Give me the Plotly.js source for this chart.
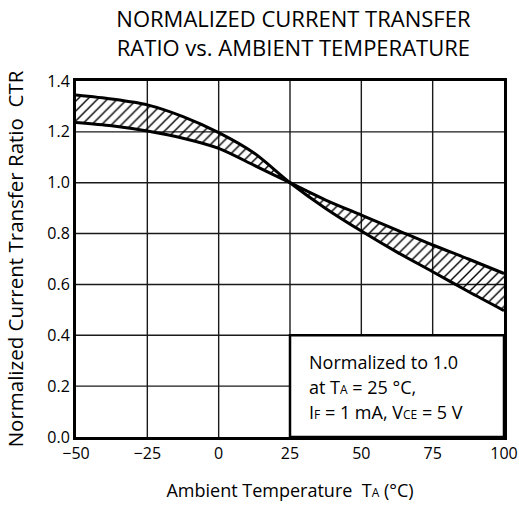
<!DOCTYPE html>
<html>
<head>
<meta charset="utf-8">
<script src="https://cdn.plot.ly/plotly-3.0.1.min.js"></script>
<style>html,body{margin:0;padding:0;background:#fff;}#chart{width:519px;height:507px;}</style>
</head>
<body>
<div id="chart"></div>
<script>
// Ambient temperature (°C)
var temperature = [-50, -37.5, -25, -12.5, 0, 12.5, 25, 37.5, 50, 62.5, 75, 87.5, 100];
// Steep boundary (high at cold, low at hot)
var ctrSteep   = [1.345, 1.329, 1.306, 1.260, 1.197, 1.116, 1.0, 0.899, 0.810, 0.727, 0.650, 0.572, 0.497];
// Shallow boundary (low at cold, high at hot)
var ctrShallow = [1.237, 1.224, 1.203, 1.175, 1.135, 1.068, 1.0, 0.932, 0.873, 0.814, 0.755, 0.700, 0.643];
var xTicks = [-50, -25, 0, 25, 50, 75, 100];
var yTicks = [0, 0.2, 0.4, 0.6, 0.8, 1.0, 1.2, 1.4];
var noteLines = [
  'Normalized to 1.0',
  'at T<span style="font-size:12px">A</span> = 25 °C,',
  'I<span style="font-size:12px">F</span> = 1 mA, V<span style="font-size:12px">CE</span> = 5 V'
];
var noteY = [0.295, 0.197, 0.098];

var FONT = '"Open Sans", "DejaVu Sans", sans-serif';
var X_MIN = xTicks[0], X_MAX = xTicks[xTicks.length - 1];
var Y_MIN = yTicks[0], Y_MAX = yTicks[yTicks.length - 1];

var traces = [
  {
    x: temperature, y: ctrShallow, type: 'scatter', mode: 'lines',
    line: {color: '#000', width: 3, shape: 'spline', smoothing: 0.8},
    showlegend: false, hoverinfo: 'skip'
  },
  {
    x: temperature, y: ctrSteep, type: 'scatter', mode: 'lines',
    line: {color: '#000', width: 3, shape: 'spline', smoothing: 0.8},
    fill: 'tonexty', fillcolor: 'rgba(0,0,0,0)',
    fillpattern: {shape: '/', fgcolor: '#000', bgcolor: 'rgba(255,255,255,0)', size: 7, solidity: 0.2},
    showlegend: false, hoverinfo: 'skip'
  }
];

// grid lines at the tick positions (drawn below the data)
var gridShapes = [];
xTicks.slice(1, -1).forEach(function (v) {
  gridShapes.push({type: 'line', xref: 'x', yref: 'y', x0: v, x1: v, y0: Y_MIN, y1: Y_MAX,
    line: {color: '#1a1a1a', width: 1.4}, layer: 'below'});
});
yTicks.slice(1, -1).forEach(function (v) {
  gridShapes.push({type: 'line', xref: 'x', yref: 'y', x0: X_MIN, x1: X_MAX, y0: v, y1: v,
    line: {color: '#1a1a1a', width: 1.4}, layer: 'below'});
});

var annotations = noteLines.map(function (t, i) {
  return {
    x: 31, y: noteY[i], xref: 'x', yref: 'y', xanchor: 'left', yanchor: 'middle',
    text: t, showarrow: false, font: {family: FONT, size: 18, color: '#000'}
  };
});

var layout = {
  width: 519, height: 507,
  margin: {l: 76, r: 15, t: 81, b: 70},
  paper_bgcolor: '#fff', plot_bgcolor: '#fff',
  font: {family: FONT, size: 16, color: '#000'},
  title: {
    text: 'NORMALIZED CURRENT TRANSFER<br>RATIO vs. AMBIENT TEMPERATURE',
    font: {family: FONT, size: 22, color: '#000'},
    x: 0.508, xref: 'paper', xanchor: 'center',
    y: 0.946, yref: 'container', yanchor: 'top'
  },
  xaxis: {
    range: [X_MIN, X_MAX], tickvals: xTicks, ticktext: xTicks.map(function(v){return v < 0 ? '\u2212' + Math.abs(v) : String(v);}),
    showgrid: false,
    showline: true, linecolor: '#000', linewidth: 3, mirror: true,
    ticks: '', zeroline: false, fixedrange: true,
    tickfont: {family: FONT, size: 16, color: '#000'},
    title: {text: 'Ambient Temperature  T<span style="font-size:12px">A</span> (°C)', font: {family: FONT, size: 18, color: '#000'}, standoff: 22}
  },
  yaxis: {
    range: [Y_MIN, Y_MAX], tickvals: yTicks, ticktext: yTicks.map(function(v){return v.toFixed(1);}),
    showgrid: false,
    showline: true, linecolor: '#000', linewidth: 3, mirror: true,
    ticks: '', zeroline: false, fixedrange: true,
    tickfont: {family: FONT, size: 16, color: '#000'},
    title: {text: 'Normalized Current Transfer Ratio  CTR', font: {family: FONT, size: 20.5, color: '#000'}, standoff: 19}
  },
  shapes: gridShapes.concat([
    {type: 'rect', xref: 'x', yref: 'y', x0: 25, x1: X_MAX, y0: Y_MIN, y1: 0.4,
     fillcolor: '#fff', line: {color: '#000', width: 2.5}, layer: 'above'}
  ]),
  annotations: annotations
};

Plotly.newPlot('chart', traces, layout, {displayModeBar: false, staticPlot: true});
</script>
</body>
</html>
